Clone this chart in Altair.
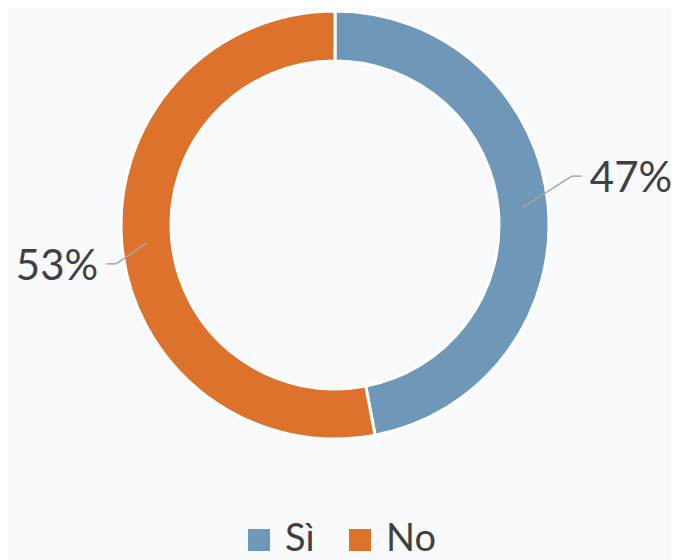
import math
import altair as alt
import pandas as pd

# ---- data ----
categories = ["Sì", "No"]
values = [47, 53]
order_idx = [0, 1]
colors = ["#6e97b8", "#dc722c"]

df = pd.DataFrame({"cat": categories, "val": values, "idx": order_idx})

# ---- layout constants (chart coordinates) ----
W, H = 663, 552
CX, CY = 327, 217
R_OUT, R_IN = 214, 164
R_MID = (R_OUT + R_IN) / 2
R_ELB = 232
OFF = math.radians(-5.5)
EX_SHIFT, EY_SHIFT = 9, -5
HSEG = 10
GAP = 8
FONT = "Lato"
TXT = "#404040"

base = alt.Chart(df)

arc = base.mark_arc(
    outerRadius=R_OUT, innerRadius=R_IN, stroke="white", strokeWidth=3
).encode(
    theta=alt.Theta("val:Q", stack=True),
    color=alt.Color(
        "cat:N",
        scale=alt.Scale(domain=categories, range=colors),
        sort=categories,
        legend=alt.Legend(
            title=None,
            orient="none",
            legendX=232,
            legendY=513,
            direction="horizontal",
            symbolType="square",
            symbolSize=484,
            symbolStrokeWidth=0,
            labelFontSize=38,
            labelFont=FONT,
            labelColor=TXT,
            labelOffset=7,
            columnPadding=26,
            padding=0,
        ),
    ),
    order=alt.Order("idx:Q"),
    x=alt.value(CX),
    y=alt.value(CY),
)

geo = (
    base.transform_joinaggregate(total="sum(val)")
    .transform_window(cum="sum(val)", sort=[alt.SortField("idx")], frame=[None, 0])
    .transform_calculate(mid="(datum.cum - datum.val/2)/datum.total*2*PI")
    .transform_calculate(
        sx=f"{CX}+{R_MID}*sin(datum.mid)",
        sy=f"{CY}-{R_MID}*cos(datum.mid)",
        ex=f"{CX}+{EX_SHIFT}+{R_ELB}*sin(datum.mid+({OFF}))",
        ey=f"{CY}+({EY_SHIFT})-{R_ELB}*cos(datum.mid+({OFF}))",
        side="sin(datum.mid) >= 0 ? 1 : -1",
        label="datum.val + '%'",
    )
    .transform_calculate(
        hx=f"datum.ex + datum.side*{HSEG}",
    )
    .transform_calculate(
        tx=f"datum.hx + datum.side*{GAP}",
    )
)

seg1 = geo.mark_rule(color="#a6a6a6", strokeWidth=1.5).encode(
    x=alt.X("sx:Q", scale=None),
    y=alt.Y("sy:Q", scale=None),
    x2="ex:Q",
    y2="ey:Q",
)
seg2 = geo.mark_rule(color="#a6a6a6", strokeWidth=1.5).encode(
    x=alt.X("ex:Q", scale=None),
    y=alt.Y("ey:Q", scale=None),
    x2="hx:Q",
    y2="ey:Q",
)

txt_right = geo.transform_filter("datum.side > 0").mark_text(
    align="left", baseline="middle", dy=3, font=FONT, fontSize=42, color=TXT
).encode(
    x=alt.X("tx:Q", scale=None),
    y=alt.Y("ey:Q", scale=None),
    text="label:N",
)
txt_left = geo.transform_filter("datum.side < 0").mark_text(
    align="right", baseline="middle", dy=3, font=FONT, fontSize=42, color=TXT
).encode(
    x=alt.X("tx:Q", scale=None),
    y=alt.Y("ey:Q", scale=None),
    text="label:N",
)

chart = (
    alt.layer(arc, seg1, seg2, txt_right, txt_left)
    .properties(
        width=W,
        height=H,
        autosize=alt.AutoSizeParams(type="none"),
        padding=0,
        background="#f8f9fb",
    )
    .configure_view(stroke=None)
)

chart.save("out.html", embed_options={"renderer": "svg", "actions": False})
